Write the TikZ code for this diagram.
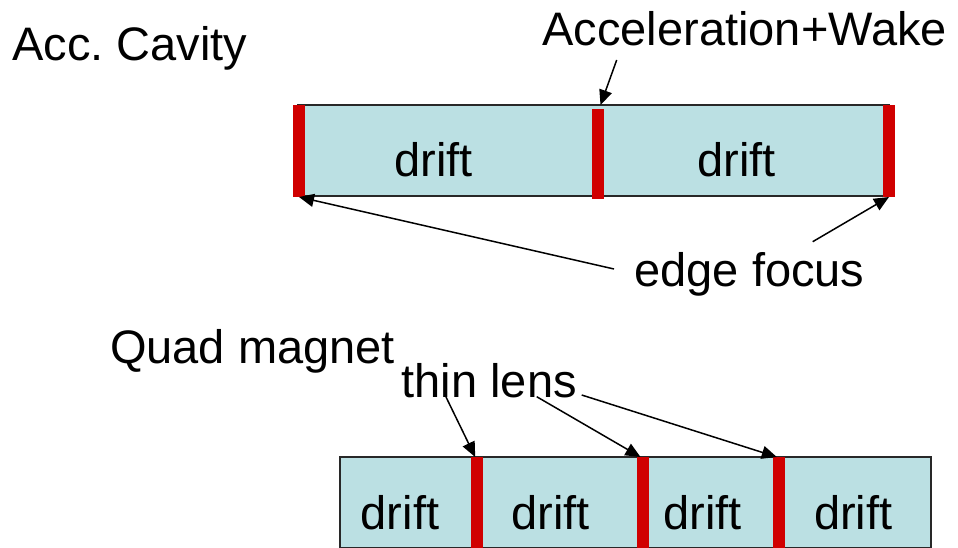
\documentclass[tikz,border=0pt]{standalone}
\usepackage{fontspec}
\setmainfont{Liberation Sans}
\usetikzlibrary{arrows.meta}
\definecolor{driftblue}{RGB}{187,224,227}
\definecolor{lensred}{RGB}{208,0,0}
\definecolor{edgegray}{RGB}{40,40,40}
\tikzset{
  lbl/.style={inner sep=0pt, outer sep=0pt, anchor=base, font=\fontsize{47}{56}\selectfont},
  driftbox/.style={fill=driftblue, inner sep=0pt, outer sep=0pt, anchor=north west},
  kick/.style={fill=lensred, draw=none, inner sep=0pt, outer sep=0pt, minimum width=12pt, anchor=north},
  pointer/.style={draw=black, line width=1.5pt, -{Triangle[length=15pt,width=13pt]}, shorten >=0pt}
}
\begin{document}
\frenchspacing
\begin{tikzpicture}[x=1pt,y=-1pt]
\useasboundingbox (0,0) rectangle (958,548);

% accelerating cavity: drift - kick - drift between two edge kicks
\node[driftbox, minimum width=593pt, minimum height=91pt] (cav) at (297,105) {};
\draw[edgegray, line width=1.6pt] (cav.north west) -- (cav.north east);
\draw[edgegray, line width=1.6pt] (cav.south west) -- (cav.south east);
\node[kick, minimum height=92pt] (cavL) at (299,105) {};
\node[kick, minimum height=90pt] (cavM) at (597.5,109) {};
\node[kick, minimum height=92pt] (cavR) at (889,105) {};

% quadrupole: four drifts separated by thin lenses
\node[driftbox, minimum width=591pt, minimum height=91pt, draw=edgegray, line width=1.4pt] (quad) at (340,457) {};
\node[kick, minimum height=92pt] (qk1) at (476.7,457) {};
\node[kick, minimum height=92pt] (qk2) at (642.5,457) {};
\node[kick, minimum height=92pt] (qk3) at (778.8,457) {};

% labels
\node[lbl] (acc) at (130,61) {Acc.\ Cavity};
\node[lbl] (wake) at (744.7,46) {Acceleration+Wake};
\node[lbl] (d1) at (433.8,177) {drift};
\node[lbl] (d2) at (736.5,177) {drift};
\node[lbl] (edge) at (749.5,286) {edge focus};
\node[lbl] (quadlbl) at (252.5,363) {Quad magnet};
\node[lbl] (thin) at (489.3,397) {thin lens};
\node[lbl] (q1) at (400,529.5) {drift};
\node[lbl] (q2) at (550.8,529.5) {drift};
\node[lbl] (q3) at (702.5,529.5) {drift};
\node[lbl] (q4) at (853.2,529.5) {drift};

% arrow tails
\coordinate (wakeT) at (616.7,60);
\coordinate (edgeTL) at (614,269);
\coordinate (edgeTR) at (812.7,241.7);
\coordinate (thinT1) at (446,397);
\coordinate (thinT2) at (536.7,396.7);
\coordinate (thinT3) at (581.7,395);

% arrow heads
\coordinate (wakeH) at (cav.north -| cavM.north);

\draw[pointer] (wakeT) -- ([xshift=3pt]wakeH);
\draw[pointer] (edgeTL) -- (cavL.south);
\draw[pointer] (edgeTR) -- (cavR.south);
\draw[pointer] (thinT1) -- ([xshift=-1.5pt]qk1.north);
\draw[pointer] (thinT2) -- ([xshift=-2pt]qk2.north);
\draw[pointer] (thinT3) -- ([xshift=-2pt]qk3.north);
\end{tikzpicture}
\end{document}
